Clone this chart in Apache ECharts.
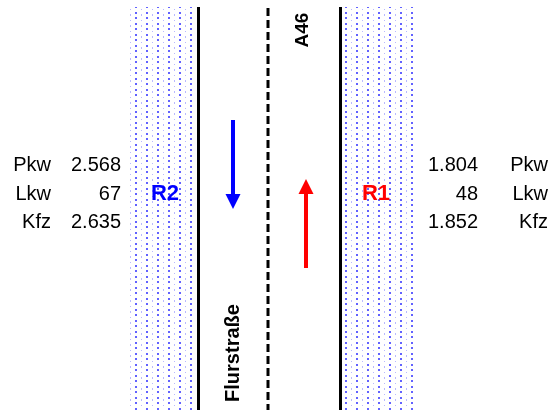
<!DOCTYPE html>
<html><head><meta charset="utf-8">
<script src="https://cdn.jsdelivr.net/npm/echarts@6/dist/echarts.min.js"></script>
<style>html,body{margin:0;padding:0;background:#fff}#c{width:552px;height:410px}</style>
</head><body><div id="c"></div>
<script>
// Data
const vehicleTypes = ['Pkw', 'Lkw', 'Kfz'];
const r2Values = [2568, 67, 2635];
const r1Values = [1804, 48, 1852];
const directionLabels = ['R2', 'R1'];
const roadNames = ['A46', 'Flurstraße'];

function fmt(v) {
  return String(v).replace(/\B(?=(\d{3})+(?!\d))/g, '.');
}

function makeTile(brightX, faintX) {
  const tile = document.createElement('canvas');
  tile.width = 11; tile.height = 11;
  const tc = tile.getContext('2d');
  tc.fillStyle = 'rgba(70,70,255,0.85)';
  tc.fillRect(brightX, 1, 2, 2);
  tc.fillRect(brightX, 6, 2, 2);
  tc.fillStyle = 'rgba(100,100,255,0.45)';
  tc.fillRect(faintX, 3, 1, 2);
  tc.fillRect(faintX, 9, 1, 1);
  return tile;
}
const tileL = makeTile(3, 9);
const tileR = makeTile(4, 10);

const chart = echarts.init(document.getElementById('c'), null, {renderer: 'canvas'});
const font = '"Liberation Sans", Arial, sans-serif';
const els = [];

// dotted stripes
els.push({type: 'rect', shape: {x: 130, y: 7, width: 64, height: 403}, style: {fill: {image: tileL, repeat: 'repeat'}}, silent: true});
els.push({type: 'rect', shape: {x: 343, y: 7, width: 70, height: 403}, style: {fill: {image: tileR, repeat: 'repeat'}}, silent: true});

// road lines
els.push({type: 'line', shape: {x1: 198.5, y1: 7, x2: 198.5, y2: 410}, style: {stroke: '#000', lineWidth: 3}});
els.push({type: 'line', shape: {x1: 340.5, y1: 7, x2: 340.5, y2: 410}, style: {stroke: '#000', lineWidth: 3}});
els.push({type: 'line', shape: {x1: 268, y1: 8, x2: 268, y2: 410}, style: {stroke: '#000', lineWidth: 3, lineDash: [8, 4]}});

// arrows
function arrow(x, yFrom, yTo, color) {
  const dir = yTo > yFrom ? 1 : -1;
  const headLen = 15, headW = 7.5;
  const base = yTo - dir * headLen;
  els.push({type: 'line', shape: {x1: x, y1: yFrom, x2: x, y2: base}, style: {stroke: color, lineWidth: 4}});
  els.push({type: 'polygon', shape: {points: [[x - headW, base], [x + headW, base], [x, yTo]]}, style: {fill: color}});
}
arrow(233, 120, 209, '#0000ff');
arrow(306, 268, 179, '#ff0000');

// labels
const rowY = [165, 194, 222];
const f = '20px ' + font;
vehicleTypes.forEach((t, i) => {
  els.push({type: 'text', x: 51, y: rowY[i], style: {text: t, font: f, fill: '#000', align: 'right', verticalAlign: 'middle'}});
  els.push({type: 'text', x: 121, y: rowY[i], style: {text: fmt(r2Values[i]), font: f, fill: '#000', align: 'right', verticalAlign: 'middle'}});
  els.push({type: 'text', x: 478, y: rowY[i], style: {text: fmt(r1Values[i]), font: f, fill: '#000', align: 'right', verticalAlign: 'middle'}});
  els.push({type: 'text', x: 548, y: rowY[i], style: {text: t, font: f, fill: '#000', align: 'right', verticalAlign: 'middle'}});
});

// direction labels
els.push({type: 'text', x: 165, y: 194, style: {text: directionLabels[0], font: 'bold 22px ' + font, fill: '#0000ff', align: 'center', verticalAlign: 'middle'}});
els.push({type: 'text', x: 376, y: 194, style: {text: directionLabels[1], font: 'bold 22px ' + font, fill: '#ff0000', align: 'center', verticalAlign: 'middle'}});

// road names (rotated)
els.push({type: 'text', x: 303, y: 30, rotation: Math.PI / 2, style: {text: roadNames[0], font: 'bold 19px ' + font, fill: '#000', align: 'center', verticalAlign: 'middle'}});
els.push({type: 'text', x: 233, y: 353, rotation: Math.PI / 2, style: {text: roadNames[1], font: 'bold 20px ' + font, fill: '#000', align: 'center', verticalAlign: 'middle'}});

chart.setOption({
  animation: false,
  backgroundColor: '#fff',
  graphic: {elements: els}
});
</script>
</body></html>
